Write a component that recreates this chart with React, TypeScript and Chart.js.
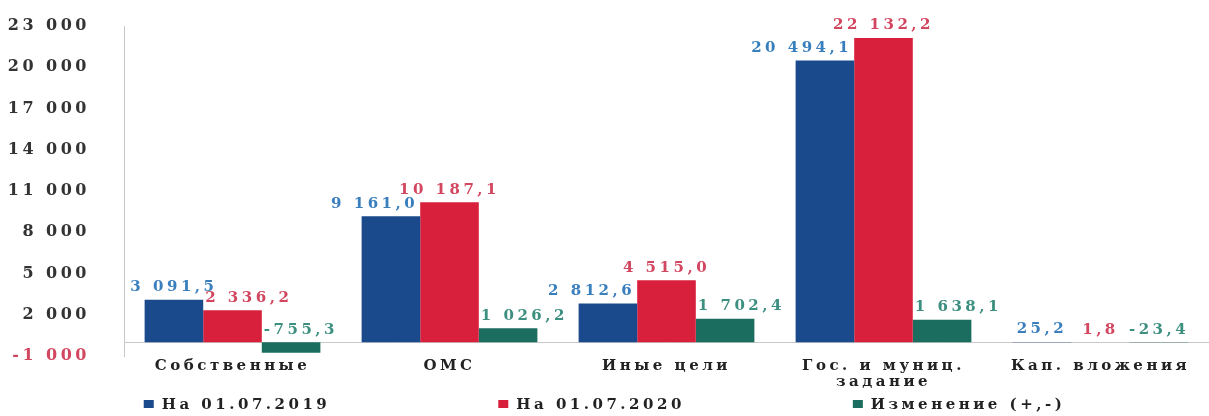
import React, { useEffect, useRef } from "react";
import { Chart, registerables } from "chart.js";

Chart.register(...registerables);

const categories: (string | string[])[] = [
  "Собственные",
  "ОМС",
  "Иные цели",
  ["Гос. и муниц.", "задание"],
  "Кап. вложения",
];
const series2019 = [3091.5, 9161.0, 2812.6, 20494.1, 25.2];
const series2020 = [2336.2, 10187.1, 4515.0, 22132.2, 1.8];
const seriesChange = [-755.3, 1026.2, 1702.4, 1638.1, -23.4];
const seriesNames = ["На 01.07.2019", "На 01.07.2020", "Изменение (+,-)"];
const barColors = ["#1b4a8c", "#d8203c", "#1b6e5f"];
const labelColors = ["#3a7fbd", "#d2465f", "#3d8f80"];
const yMin = -1000;
const yMax = 23000;
const yStep = 3000;

const FONT = "'DejaVu Serif', 'Liberation Serif', serif";
const SPACING = "3.5px";
const LEGEND_GAP = 168;

const group = (n: number) =>
  n.toString().replace(/\B(?=(\d{3})+(?!\d))/g, " ");

const fmtValue = (v: number) => {
  const [i, d] = Math.abs(v).toFixed(1).split(".");
  return (v < 0 ? "-" : "") + group(Number(i)) + "," + d;
};

const fmtTick = (v: number) => (v < 0 ? "-" : "") + group(Math.abs(v));

const spacingPlugin = {
  id: "spacing",
  beforeLayout(chart: any) {
    (chart.ctx as any).letterSpacing = SPACING;
  },
  beforeDraw(chart: any) {
    (chart.ctx as any).letterSpacing = SPACING;
  },
};

const zeroLinePlugin = {
  id: "zeroLine",
  beforeDatasetsDraw(chart: any) {
    const { ctx, chartArea, scales } = chart;
    const y = scales.y.getPixelForValue(0);
    ctx.save();
    ctx.strokeStyle = "#c9c9c9";
    ctx.lineWidth = 1;
    ctx.beginPath();
    ctx.moveTo(chartArea.left, Math.round(y) + 0.5);
    ctx.lineTo(chartArea.right, Math.round(y) + 0.5);
    ctx.stroke();
    ctx.restore();
  },
};

// value labels above bars; nudged sideways when a neighbouring taller bar would cover them
const valueLabelPlugin = {
  id: "valueLabels",
  afterDatasetsDraw(chart: any) {
    const { ctx, scales } = chart;
    const zeroY = scales.y.getPixelForValue(0);
    ctx.save();
    (ctx as any).letterSpacing = SPACING;
    ctx.font = `bold 15px ${FONT}`;
    ctx.textAlign = "center";
    ctx.textBaseline = "bottom";
    const metas = chart.data.datasets.map((_: any, di: number) => chart.getDatasetMeta(di));
    chart.data.datasets.forEach((ds: any, di: number) => {
      metas[di].data.forEach((bar: any, i: number) => {
        const v = ds.data[i];
        const text = fmtValue(v);
        const w = ctx.measureText(text).width;
        const bottom = (v >= 0 ? bar.y : zeroY) - 5;
        let cx = bar.x;
        const right = metas[di + 1] ? metas[di + 1].data[i] : null;
        const left = metas[di - 1] ? metas[di - 1].data[i] : null;
        if (right && right.y < bottom && cx + w / 2 > right.x - right.width / 2) {
          cx = right.x - right.width / 2 - 2 - w / 2;
        } else if (left && left.y < bottom && cx - w / 2 < left.x + left.width / 2) {
          cx = left.x + left.width / 2 + 2 + w / 2;
        }
        ctx.fillStyle = labelColors[di];
        ctx.fillText(text, cx, bottom);
      });
    });
    ctx.restore();
  },
};

const legendPlugin = {
  id: "customLegend",
  afterDraw(chart: any) {
    const { ctx, width, height } = chart;
    ctx.save();
    (ctx as any).letterSpacing = SPACING;
    ctx.font = `bold 15px ${FONT}`;
    ctx.textBaseline = "middle";
    ctx.textAlign = "left";
    const box = 10;
    const gapText = 8;
    const widths = seriesNames.map((n) => box + gapText + ctx.measureText(n).width);
    const total = widths.reduce((a, b) => a + b, 0) + LEGEND_GAP * (seriesNames.length - 1);
    let x = (width - total) / 2;
    const y = height - 11;
    seriesNames.forEach((name, i) => {
      ctx.fillStyle = barColors[i];
      ctx.fillRect(x, y - box / 2, box, box - 2);
      ctx.fillStyle = "#222";
      ctx.fillText(name, x + box + gapText, y);
      x += widths[i] + LEGEND_GAP;
    });
    ctx.restore();
  },
};

export default function App() {
  const canvasRef = useRef<HTMLCanvasElement | null>(null);

  useEffect(() => {
    if (!canvasRef.current) return;
    const chart = new Chart(canvasRef.current, {
      type: "bar",
      data: {
        labels: categories,
        datasets: [series2019, series2020, seriesChange].map((d, i) => ({
          label: seriesNames[i],
          data: d,
          backgroundColor: barColors[i],
          borderWidth: 0,
          categoryPercentage: 0.81,
          barPercentage: 1,
        })),
      },
      options: {
        animation: false,
        responsive: true,
        maintainAspectRatio: false,
        layout: { padding: { top: 0, right: 0, left: 0, bottom: 26 } },
        plugins: {
          tooltip: { enabled: false },
          legend: { display: false },
        },
        scales: {
          x: {
            grid: { display: false, drawTicks: false },
            border: { display: false },
            afterFit: (scale: any) => {
              scale.height = 34;
            },
            ticks: {
              color: "#222",
              padding: 2,
              maxRotation: 0,
              autoSkip: false,
              font: { family: FONT, size: 15, weight: "bold", lineHeight: 1.05 },
            },
          },
          y: {
            min: yMin,
            max: yMax,
            afterFit: (scale: any) => {
              scale.width = 124;
              scale.paddingTop = 26;
              scale.paddingBottom = 0;
            },
            grid: { display: true, color: "rgba(0,0,0,0)", drawTicks: false },
            border: { display: true, color: "#c8c8c8" },
            ticks: {
              stepSize: yStep,
              padding: 34,
              autoSkip: false,
              color: (ctx: any) => (ctx.tick && ctx.tick.value < 0 ? "#d2465f" : "#333"),
              font: { family: FONT, size: 16, weight: "bold" },
              callback: (v: any) => fmtTick(Number(v)),
            },
          },
        },
      },
      plugins: [spacingPlugin, zeroLinePlugin, valueLabelPlugin, legendPlugin],
    });
    return () => chart.destroy();
  }, []);

  return (
    <div style={{ position: "fixed", left: 0, top: 0, width: 1209, height: 416, background: "#fff" }}>
      <canvas ref={canvasRef} />
    </div>
  );
}
